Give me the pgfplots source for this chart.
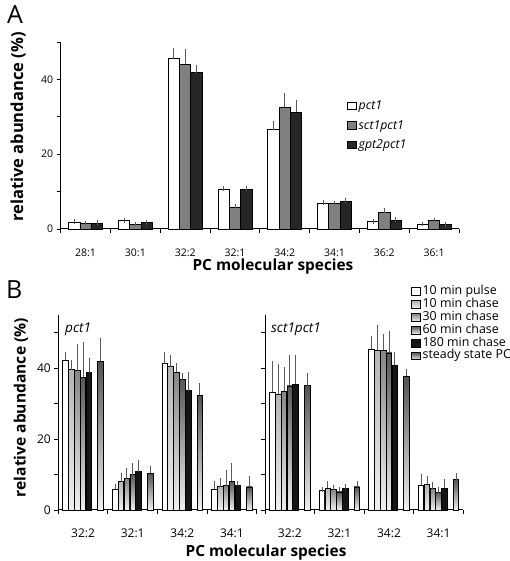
\documentclass[border=0pt]{standalone}
\usepackage{pgfplots}
\pgfplotsset{compat=1.18}
\usepackage{pgfplotstable}
\usepackage{fontspec}
\setmainfont{Open Sans}

\definecolor{gA}{HTML}{808080}
\definecolor{dA}{HTML}{262626}
\definecolor{errc}{HTML}{5A5A5A}
\definecolor{cten}{HTML}{B4B4B4}
\definecolor{cthirty}{HTML}{858585}
\definecolor{csixty}{HTML}{575757}
\definecolor{chund}{HTML}{151515}
\definecolor{css}{HTML}{525252}
\definecolor{lightb}{HTML}{F0F0F0}

% Panel A: pct1, sct1pct1, gpt2pct1
\pgfplotstableread{
x   p    pe   s    se   g    ge
0.5 1.8  0.2  1.4  0.2  1.6  0.2
1.5 2.2  0.1  1.1  0.2  1.7  0.1
2.5 45.5 2.2  44.0 3.6  41.8 1.3
3.5 10.6 0.3  5.9  0.2  10.6 0.3
4.5 26.5 1.7  32.5 3.2  31.2 2.6
5.5 6.8  0.3  6.8  0.2  7.4  0.2
6.5 1.9  0.1  4.4  0.5  2.4  0.1
7.5 1.2  0.1  2.2  0.2  1.1  0.1
}\tabA

% Panel B left: pct1
\pgfplotstableread{
x   a    ae   b    be   c    ce   d    de   e    ee   f    fe
0.5 42.3 1.7  39.6 2.1  39.3 6.9  37.4 9.4  38.7 3.5  41.9 6.0
1.5 5.8  1.0  8.0  1.7  8.8  2.3  10.0 2.5  10.8 2.7  10.4 1.4
2.5 41.3 2.7  40.4 2.7  38.9 1.9  36.7 1.3  33.7 4.6  32.3 2.9
3.5 5.8  1.7  6.6  1.9  6.8  3.9  8.1  4.5  7.0  0.5  6.5  2.4
}\tabBL

% Panel B right: sct1pct1
\pgfplotstableread{
x   a    ae   b    be   c    ce   d    de   e    ee   f    fe
0.5 33.3 8.2  32.7 7.7  33.5 6.1  35.0 8.2  35.4 7.8  35.1 2.9
1.5 5.4  0.3  6.1  1.5  5.8  0.6  5.1  0.7  6.0  0.7  6.5  1.0
2.5 45.3 3.0  45.1 6.4  45.1 3.8  44.3 5.4  40.8 3.0  37.7 1.5
3.5 7.0  2.4  7.2  1.7  6.0  1.2  4.9  0.8  6.2  1.9  8.5  1.2
}\tabBR

\pgfplotsset{
  base/.style={
    scale only axis, clip=false,
    axis x line*=bottom, axis y line*=left,
    axis line style={black, line width=1pt, -},
    tick align=outside, major tick length=4pt, minor tick length=4.5pt,
    tick style={black, line width=0.9pt},
    major x tick style={draw=none},
    /pgf/number format/assume math mode=true,
    xlabel style={font=\bfseries\fontsize{15.4}{15.4}\selectfont, anchor=center},
    ylabel style={font=\bfseries\fontsize{16.5}{16.5}\selectfont, anchor=center},
  },
  sq legend/.style={legend image code/.code={\draw[##1, line width=0.8pt] (0pt,-3.5pt) rectangle (9pt,4pt);}},
  errs/.style={forget plot, draw=none, mark=none,
    error bars/.cd, y dir=plus, y explicit,
    error bar style={draw=errc, line width=0.8pt, solid},
    error mark options={draw=errc, mark size=2.3pt, line width=0.8pt}},
  barA/.style={ybar, bar width=0.228, bar shift=#1, draw=black, line width=0.8pt, sq legend},
  barB/.style={ybar, bar width=0.112, bar shift=#1, draw=black, line width=0.8pt, sq legend},
}

% one plot per bar so that each bar gets its own vertical gradient
\newcommand\shadedbars[4]{%
  \pgfplotsinvokeforeach{0,1,2,3}{%
    \addplot[forget plot, barB=#3, top color=#4, bottom color=lightb,
      restrict x to domain=##1.1:##1.9] table[x=x,y=#2]{#1};
  }%
}
\newcommand\panelB[1]{%
  \addplot[forget plot, barB=-0.3528, fill=white] table[x=x,y=a]{#1};
  \shadedbars{#1}{b}{-0.2352}{cten}
  \shadedbars{#1}{c}{-0.1176}{cthirty}
  \shadedbars{#1}{d}{0}{csixty}
  \addplot[forget plot, barB=0.1176, fill=chund] table[x=x,y=e]{#1};
  \shadedbars{#1}{f}{0.3528}{css}
  \addplot[errs] table[x expr=\thisrow{x}-0.3528, y=a, y error=ae]{#1};
  \addplot[errs] table[x expr=\thisrow{x}-0.2352, y=b, y error=be]{#1};
  \addplot[errs] table[x expr=\thisrow{x}-0.1176, y=c, y error=ce]{#1};
  \addplot[errs] table[x=x, y=d, y error=de]{#1};
  \addplot[errs] table[x expr=\thisrow{x}+0.1176, y=e, y error=ee]{#1};
  \addplot[errs] table[x expr=\thisrow{x}+0.3528, y=f, y error=fe]{#1};
}

\begin{document}
\begin{tikzpicture}
\path[use as bounding box] (0pt,0pt) rectangle (510pt,561pt);

\node[anchor=base west, font=\fontsize{25}{25}\selectfont, inner sep=0pt] at (7pt,537pt) {A};
\node[anchor=base west, font=\fontsize{25}{25}\selectfont, inner sep=0pt] at (6pt,262pt) {B};

% ---------------- Panel A ----------------
\begin{axis}[base,
  at={(60.7pt,332pt)}, anchor=south west, width=398.3pt, height=187pt,
  xmin=0, xmax=8, ymin=0, ymax=50,
  ticklabel style={font=\fontsize{10.5}{10.5}\selectfont},
  xticklabel shift=12pt,
  xtick={0.5,1.5,2.5,3.5,4.5,5.5,6.5,7.5},
  xticklabels={28:1,30:1,32:2,32:1,34:2,34:1,36:2,36:1},
  minor xtick={0,1,2,3,4,5,6,7,8},
  ytick={0,10,20,30,40,50}, yticklabels={0,,20,,40,},
  xlabel={PC molecular species},
  xlabel style={at={(axis description cs:0.533,-0.203)}},
  ylabel={relative abundance (\%)},
  ylabel style={at={(axis description cs:-0.107,0.545)}},
  legend style={at={(axis description cs:0.718,0.71)}, anchor=north west,
    draw=none, fill=none, font=\itshape\fontsize{12.3}{12.3}\selectfont,
    row sep=0pt, column sep=2pt, inner sep=0pt,
    nodes={inner sep=0pt, text height=13.5pt, text depth=6pt}},
  legend cell align=left,
]
\addplot[barA=-0.228, fill=white] table[x=x,y=p]{\tabA};
\addlegendentry{pct1}
\addplot[barA=0, fill=gA] table[x=x,y=s]{\tabA};
\addlegendentry{sct1pct1}
\addplot[barA=0.228, fill=dA] table[x=x,y=g]{\tabA};
\addlegendentry{gpt2pct1}
\addplot[errs] table[x expr=\thisrow{x}-0.228, y=p, y error=pe]{\tabA};
\addplot[errs] table[x=x, y=s, y error=se]{\tabA};
\addplot[errs] table[x expr=\thisrow{x}+0.228, y=g, y error=ge]{\tabA};
\end{axis}

% ---------------- Panel B left ----------------
\begin{axis}[base,
  at={(58.3pt,51pt)}, anchor=south west, width=198.4pt, height=195pt,
  xmin=0, xmax=4, ymin=0, ymax=55,
  ticklabel style={font=\fontsize{12}{12}\selectfont},
  xticklabel shift=11pt,
  xtick={0.5,1.5,2.5,3.5}, xticklabels={32:2,32:1,34:2,34:1},
  minor xtick={0,1,2,3,4},
  ytick={0,10,20,30,40,50}, yticklabels={0,,20,,40,},
  xlabel={PC molecular species},
  xlabel style={at={(axis description cs:1.047,-0.22)}},
  ylabel={relative abundance (\%)},
  ylabel style={at={(axis description cs:-0.188,0.525)}, font=\bfseries\fontsize{15.6}{15.6}\selectfont},
]
\panelB{\tabBL}
\node[anchor=west, font=\itshape\fontsize{13.5}{13.5}\selectfont, inner sep=0pt] at (axis description cs:0.034,0.928) {pct1};
\end{axis}

% ---------------- Panel B right ----------------
\begin{axis}[base,
  at={(265pt,51pt)}, anchor=south west, width=198.4pt, height=195pt,
  xmin=0, xmax=4, ymin=0, ymax=55,
  ticklabel style={font=\fontsize{12}{12}\selectfont},
  xticklabel shift=11pt,
  xtick={0.5,1.5,2.5,3.5}, xticklabels={32:2,32:1,34:2,34:1},
  minor xtick={0,1,2,3,4},
  ytick={0,10,20,30,40,50}, yticklabels={,,,,,},
  legend style={at={(axis description cs:0.734,1.1526)}, anchor=north west,
    draw=none, fill=none, font=\fontsize{12.4}{12.4}\selectfont,
    row sep=0pt, column sep=2pt, inner sep=0pt,
    nodes={inner sep=0pt, text height=9pt, text depth=3.9pt}},
  legend cell align=left,
]
\addlegendimage{barB=0, fill=white}
\addlegendentry{10 min pulse}
\addlegendimage{barB=0, top color=cten, bottom color=lightb}
\addlegendentry{10 min chase}
\addlegendimage{barB=0, top color=cthirty, bottom color=lightb}
\addlegendentry{30 min chase}
\addlegendimage{barB=0, top color=csixty, bottom color=lightb}
\addlegendentry{60 min chase}
\addlegendimage{barB=0, fill=chund}
\addlegendentry{180 min chase}
\addlegendimage{barB=0, top color=css, bottom color=lightb}
\addlegendentry{steady state PC}
\panelB{\tabBR}
\node[anchor=west, font=\itshape\fontsize{13.5}{13.5}\selectfont, inner sep=0pt] at (axis description cs:0.030,0.928) {sct1pct1};
\end{axis}
\end{tikzpicture}
\end{document}
